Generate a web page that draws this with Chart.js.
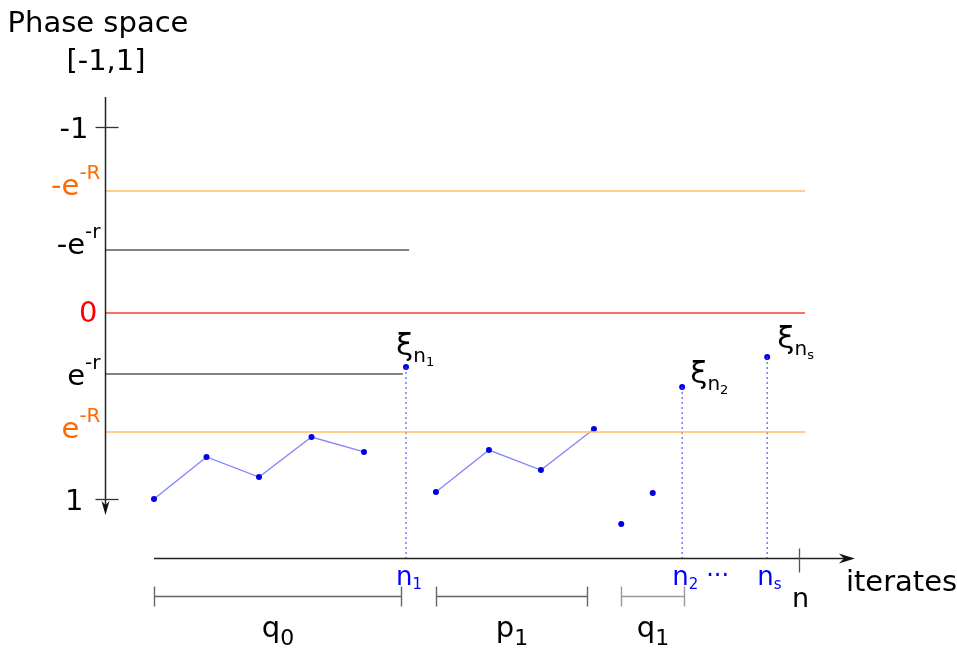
<!DOCTYPE html>
<html><head><meta charset="utf-8">
<script src="https://cdn.jsdelivr.net/npm/chart.js@4"></script>
<style>html,body{margin:0;padding:0;background:#fff}#wrap{width:957px;height:648px;position:relative}</style>
</head><body><div id="wrap"><canvas id="c"></canvas></div>
<script>
// ---- data (x in iterates, y in phase space [-1,1], downward positive) ----
const seg1X = [0, 1, 2, 3, 4];
const seg1Y = [1.0, 0.774, 0.882, 0.667, 0.747];
const seg2X = [5.37, 6.38, 7.37, 8.38];
const seg2Y = [0.962, 0.737, 0.844, 0.624];
const looseX = [8.9, 9.5];
const looseY = [1.134, 0.968];
const xiSubs = ['1', '2', 's'];
const xiX = [4.8, 10.06, 11.68];
const xiY = [0.290, 0.398, 0.237];
const levelLabels = ['-e|-R', '-e|-r', '0', 'e|-r', 'e|-R'];
const levelY = [-0.656, -0.339, 0, 0.328, 0.640];
const levelEndX = [12.4, 4.86, 12.4, 4.74, 12.4];
const tickLabelsY = ['-1', '1'];
const tickY = [-1, 1];
const bracketLabels = ['q|0', 'p|1', 'q|1'];
const bracketStart = [0, 5.37, 8.9];
const bracketEnd = [4.70, 8.25, 10.1];
const nTickX = 12.29;

// ---- layout constants ----
const yAxisX = -0.933, yAxisTop = -1.161, yAxisTip = 1.086;
const xAxisY = 1.317, xAxisStart = 0, xAxisTip = 13.35;
const bracketY = 1.522;

const levelColors = ['#ffc064', '#5a5a5a', '#ff3c3c', '#5a5a5a', '#ffc064'];
const levelTextColors = ['#ff6a00', '#000', '#ff0000', '#000', '#ff6a00'];
const FONT = '"DejaVu Sans", sans-serif';

const datasets = [];
levelY.forEach((v, i) => datasets.push({
  data: [{x: yAxisX, y: v}, {x: levelEndX[i], y: v}],
  showLine: true, borderColor: levelColors[i], borderWidth: 1.6, pointRadius: 0
}));
xiX.forEach((x, i) => datasets.push({
  data: [{x: x, y: xiY[i]}, {x: x, y: xAxisY}],
  showLine: true, borderColor: 'rgba(70,70,255,0.85)', borderWidth: 1.3, borderDash: [2, 3], pointRadius: 0
}));
const ptStyle = {pointRadius: 3, pointBackgroundColor: '#0000e6', pointBorderWidth: 0, borderColor: 'rgba(90,90,255,0.75)', borderWidth: 1.3};
datasets.push(Object.assign({data: seg1X.map((x, i) => ({x, y: seg1Y[i]})), showLine: true}, ptStyle));
datasets.push(Object.assign({data: seg2X.map((x, i) => ({x, y: seg2Y[i]})), showLine: true}, ptStyle));
datasets.push(Object.assign({data: looseX.map((x, i) => ({x, y: looseY[i]})), showLine: false}, ptStyle));
datasets.push(Object.assign({data: xiX.map((x, i) => ({x, y: xiY[i]})), showLine: false}, ptStyle));

function runs(ctx, parts, x, y, align) {
  let w = 0;
  parts.forEach(p => { ctx.font = p[1] + 'px ' + FONT; w += ctx.measureText(p[0]).width; });
  let cx = align === 'right' ? x - w : align === 'center' ? x - w / 2 : x;
  ctx.textBaseline = 'alphabetic'; ctx.textAlign = 'left';
  parts.forEach(p => {
    ctx.font = p[1] + 'px ' + FONT; ctx.fillStyle = p[3];
    ctx.fillText(p[0], cx, y + p[2]);
    cx += ctx.measureText(p[0]).width;
  });
}

const deco = {
  id: 'deco',
  afterDatasetsDraw(chart) {
    const ctx = chart.ctx, xs = chart.scales.x, ys = chart.scales.y;
    const X = v => xs.getPixelForValue(v), Y = v => ys.getPixelForValue(v);
    ctx.save();
    ctx.strokeStyle = '#222'; ctx.lineWidth = 1.5;
    const ax = Math.round(X(yAxisX)) + 0.5;
    ctx.beginPath(); ctx.moveTo(ax, Y(yAxisTop)); ctx.lineTo(ax, Y(yAxisTip) - 6); ctx.stroke();
    ctx.fillStyle = '#111';
    ctx.beginPath(); ctx.moveTo(ax, Y(yAxisTip)); ctx.lineTo(ax - 4, Y(yAxisTip) - 14); ctx.lineTo(ax, Y(yAxisTip) - 10); ctx.lineTo(ax + 4, Y(yAxisTip) - 14); ctx.closePath(); ctx.fill();
    ctx.strokeStyle = '#333'; ctx.lineWidth = 1.3;
    tickY.forEach(v => { const py = Math.round(Y(v)) + 0.5; ctx.beginPath(); ctx.moveTo(ax - 10, py); ctx.lineTo(ax + 13, py); ctx.stroke(); });
    ctx.strokeStyle = '#222'; ctx.lineWidth = 1.5;
    const ay = Math.round(Y(xAxisY)) + 0.5;
    ctx.beginPath(); ctx.moveTo(X(xAxisStart), ay); ctx.lineTo(X(xAxisTip) - 8, ay); ctx.stroke();
    ctx.beginPath(); ctx.moveTo(X(xAxisTip), ay); ctx.lineTo(X(xAxisTip) - 16, ay - 5); ctx.lineTo(X(xAxisTip) - 11, ay); ctx.lineTo(X(xAxisTip) - 16, ay + 5); ctx.closePath(); ctx.fill();
    ctx.strokeStyle = '#555'; ctx.lineWidth = 1.3;
    const nx = Math.round(X(nTickX)) + 0.5;
    ctx.beginPath(); ctx.moveTo(nx, ay - 10); ctx.lineTo(nx, ay + 14); ctx.stroke();
    const by = Math.round(Y(bracketY)) + 0.5;
    bracketStart.forEach((s, i) => {
      ctx.strokeStyle = i === 2 ? '#999' : '#666'; ctx.lineWidth = 1.4;
      const a = Math.round(X(s)) + 0.5, b = Math.round(X(bracketEnd[i])) + 0.5;
      ctx.beginPath(); ctx.moveTo(a, by); ctx.lineTo(b, by);
      ctx.moveTo(a, by - 10); ctx.lineTo(a, by + 10); ctx.moveTo(b, by - 10); ctx.lineTo(b, by + 10); ctx.stroke();
      const [base, sub] = bracketLabels[i].split('|');
      runs(ctx, [[base, 29, 0, '#000'], [sub, 22, 8, '#000']], (a + b) / 2, by + 40, 'center');
    });
    ctx.fillStyle = '#000'; ctx.textAlign = 'center'; ctx.textBaseline = 'alphabetic';
    ctx.font = '29px ' + FONT; ctx.fillText('Phase space', 98, 32);
    ctx.fillText('[-1,1]', 106, 70);
    runs(ctx, [[tickLabelsY[0], 29, 0, '#000']], ax - 17, Y(tickY[0]) + 11, 'right');
    runs(ctx, [[tickLabelsY[1], 29, 0, '#000']], ax - 22, Y(tickY[1]) + 11, 'right');
    levelLabels.forEach((lab, i) => {
      const py = Y(levelY[i]);
      const c = levelTextColors[i];
      if (lab.indexOf('|') < 0) { runs(ctx, [[lab, 29, 0, c]], ax - 8, py + 9, 'right'); return; }
      const [base, sup] = lab.split('|');
      const dy = i === 4 ? 6 : (i === 3 ? 11 : 4);
      runs(ctx, [[base, 29, 0, c], [sup, 20, -16, c]], ax - 5, py + dy, 'right');
    });
    const xiOff = [[-10, -12], [8, -4], [10, -9]];
    xiX.forEach((x, i) => {
      const px = X(x) + xiOff[i][0], py = Y(xiY[i]) + xiOff[i][1];
      runs(ctx, [['ξ', 31, 0, '#000'], ['n', 20, 7, '#000'], [xiSubs[i], 13, 11, '#000']], px, py, 'left');
    });
    xiX.forEach((x, i) => {
      runs(ctx, [['n', 26, 0, '#0000ff'], [xiSubs[i], 15, 4, '#0000ff']], X(x) - 10, ay + 26, 'left');
    });
    runs(ctx, [['···', 24, 0, '#0000ff']], X(xiX[1]) + 24, ay + 24, 'left');
    runs(ctx, [['n', 27, 0, '#000']], nx + 1, ay + 48, 'center');
    runs(ctx, [['iterates', 29, 0, '#000']], X(xAxisTip) - 9, ay + 32, 'left');
    ctx.restore();
  }
};

new Chart(document.getElementById('c'), {
  type: 'scatter',
  data: {datasets},
  options: {
    responsive: true, maintainAspectRatio: false, animation: false,
    layout: {padding: 0, autoPadding: false},
    plugins: {legend: {display: false}, tooltip: {enabled: false}},
    scales: {
      x: {type: 'linear', display: false, min: -154 / 52.5, max: (957 - 154) / 52.5},
      y: {type: 'linear', display: false, reverse: true, min: -313 / 186, max: (648 - 313) / 186}
    }
  },
  plugins: [deco]
});
</script></body></html>
